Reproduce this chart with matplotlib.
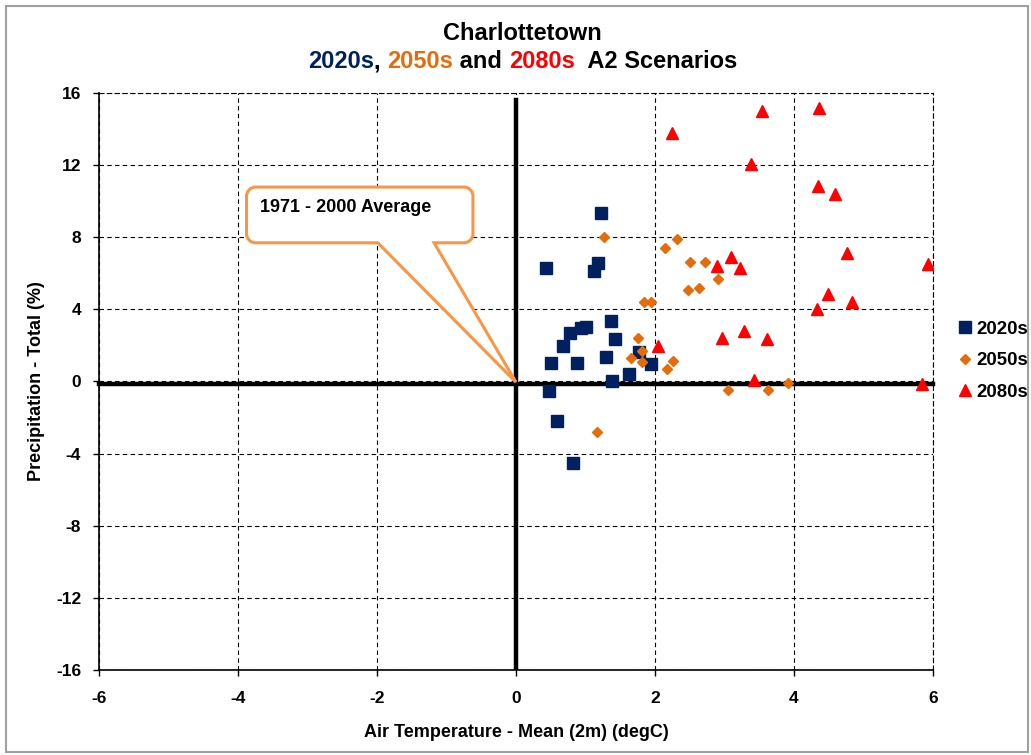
import matplotlib
matplotlib.use("Agg")
import matplotlib.pyplot as plt
from matplotlib.path import Path
import matplotlib.patches as patches
import numpy as np

plt.rcParams['font.family'] = ['Liberation Sans', 'DejaVu Sans']
plt.rcParams['font.weight'] = 'bold'
plt.rcParams['axes.unicode_minus'] = False

# Change from 1971-2000 normals: mean air temperature (degC) vs total precipitation (%)
temp_2020s = [1.22, 0.43, 1.18, 1.13, 1.37, 0.78, 0.94, 1.01, 1.43, 0.68,
              1.29, 0.50, 0.88, 1.77, 1.94, 1.62, 1.38, 0.47, 0.59, 0.82]
prec_2020s = [9.35, 6.29, 6.54, 6.09, 3.36, 2.70, 2.94, 3.02, 2.33, 1.94,
              1.37, 1.00, 1.04, 1.63, 0.96, 0.39, 0.02, -0.52, -2.19, -4.50]

temp_2050s = [1.26, 2.15, 2.32, 2.50, 2.72, 2.91, 2.47, 2.63, 1.84, 1.95,
              1.76, 1.81, 1.65, 1.81, 2.26, 2.17, 1.16, 3.05, 3.63, 3.91]
prec_2050s = [7.98, 7.37, 7.87, 6.59, 6.59, 5.70, 5.06, 5.17, 4.39, 4.41,
              2.39, 1.70, 1.31, 1.06, 1.13, 0.69, -2.83, -0.50, -0.46, -0.09]

temp_2080s = [2.24, 3.54, 4.36, 3.39, 4.35, 4.59, 3.09, 2.89, 3.23, 4.77,
              5.93, 4.49, 4.84, 4.34, 3.28, 2.97, 3.62, 2.04, 3.43, 5.84]
prec_2080s = [13.78, 14.98, 15.17, 12.06, 10.83, 10.37, 6.91, 6.39, 6.30, 7.09,
              6.50, 4.83, 4.41, 4.00, 2.78, 2.41, 2.33, 1.98, 0.06, -0.13]

# 1971 - 2000 baseline cross
base_v_x = [0, 0]
base_v_y = [-16, 15.6]
base_h_x = [-6, 6]
base_h_y = [-0.15, -0.15]

x_ticks = [-6, -4, -2, 0, 2, 4, 6]
y_ticks = [-16, -12, -8, -4, 0, 4, 8, 12, 16]

c_2020 = '#002060'
c_2050 = '#E46C0A'
c_2080 = '#FF0000'
c_callout = '#F79646'

fig = plt.figure(figsize=(10.31, 7.55), dpi=100)
ax = fig.add_axes([0.0963, 0.1126, 0.8084, 0.7646])

ax.set_xlim(-6, 6)
ax.set_ylim(-16, 16)
ax.set_xticks(x_ticks)
ax.set_yticks(y_ticks)
ax.tick_params(direction='out', length=4, width=1, labelsize=12.5, colors='black')
ax.tick_params(axis='x', pad=11)
ax.tick_params(axis='y', pad=9)
for lab in ax.get_xticklabels() + ax.get_yticklabels():
    lab.set_fontweight('bold')
ax.grid(True, color='black', linestyle=(0, (4, 3)), linewidth=0.8)
ax.set_axisbelow(True)
for s in ['left', 'bottom']:
    ax.spines[s].set_linewidth(1.2)
for s in ['top', 'right']:
    ax.spines[s].set_linestyle((0, (4, 3)))
    ax.spines[s].set_linewidth(0.8)

ax.plot(base_v_x, base_v_y, color='black', linewidth=3.2, zorder=2)
ax.plot(base_h_x, base_h_y, color='black', linewidth=3.2, zorder=2, clip_on=False)

ax.plot(temp_2020s, prec_2020s, 's', color=c_2020, markersize=8, label='2020s', zorder=3)
ax.plot(temp_2050s, prec_2050s, 'D', color=c_2050, markersize=5.6, label='2050s', zorder=3)
ax.plot(temp_2080s, prec_2080s, '^', color=c_2080, markersize=8, label='2080s', zorder=4)

ax.set_xlabel('Air Temperature - Mean (2m) (degC)', fontsize=13, fontweight='bold', labelpad=13)
ax.set_ylabel('Precipitation - Total (%)', fontsize=13, fontweight='bold', labelpad=8)

# callout box with a wedge pointing at the baseline origin
box_x0, box_x1 = -3.88, -0.62
box_y0, box_y1 = 7.68, 10.77
wedge_x0, wedge_x1 = -1.99, -1.18
tip = (0, -0.05)
T = ax.transData.transform
(bx0, by0), (bx1, by1) = T((box_x0, box_y0)), T((box_x1, box_y1))
wx0 = T((wedge_x0, 0))[0]
wx1 = T((wedge_x1, 0))[0]
tx, ty = T(tip)
r = 9
k = 0.45
verts = [
    (wx1, by0), (bx1 - r, by0),
    (bx1 - r * k, by0), (bx1, by0 + r * k), (bx1, by0 + r),
    (bx1, by1 - r),
    (bx1, by1 - r * k), (bx1 - r * k, by1), (bx1 - r, by1),
    (bx0 + r, by1),
    (bx0 + r * k, by1), (bx0, by1 - r * k), (bx0, by1 - r),
    (bx0, by0 + r),
    (bx0, by0 + r * k), (bx0 + r * k, by0), (bx0 + r, by0),
    (wx0, by0), (tx, ty), (wx1, by0),
]
codes = [Path.MOVETO, Path.LINETO,
         Path.CURVE4, Path.CURVE4, Path.CURVE4,
         Path.LINETO,
         Path.CURVE4, Path.CURVE4, Path.CURVE4,
         Path.LINETO,
         Path.CURVE4, Path.CURVE4, Path.CURVE4,
         Path.LINETO,
         Path.CURVE4, Path.CURVE4, Path.CURVE4,
         Path.LINETO, Path.LINETO, Path.CLOSEPOLY]
callout = patches.PathPatch(Path(verts, codes), facecolor='white', edgecolor=c_callout,
                            linewidth=2.2, transform=None, zorder=5, joinstyle='miter')
ax.add_artist(callout)
ax.text(-3.68, 9.65, '1971 - 2000 Average', fontsize=13, fontweight='bold',
        ha='left', va='center', zorder=6)

# legend
leg = fig.legend(loc='center left', bbox_to_anchor=(0.922, 0.522), frameon=False,
                 fontsize=13.4, handlelength=0.7, handletextpad=0.3, labelspacing=0.78,
                 borderaxespad=0)
for t in leg.get_texts():
    t.set_fontweight('bold')

# two-line title, second line in series colours
fig.text(0.507, 0.956, 'Charlottetown', fontsize=17, fontweight='bold',
         ha='center', va='center')
parts = [('2020s', c_2020), (', ', 'black'), ('2050s', c_2050), (' and ', 'black'),
         ('2080s', c_2080), ('  A2 Scenarios', 'black')]
renderer = fig.canvas.get_renderer()
texts = [fig.text(0, 0.918, s, color=c, fontsize=17, fontweight='bold', va='center', ha='left')
         for s, c in parts]
widths = [t.get_window_extent(renderer).width for t in texts]
total = sum(widths)
x = 0.507 * fig.bbox.width - total / 2
for t, w in zip(texts, widths):
    t.set_x(x / fig.bbox.width)
    x += w

# chart area border
fig.add_artist(patches.Rectangle((6 / 1031, 3 / 755), 1022 / 1031, 746 / 755,
                                 transform=fig.transFigure, fill=False,
                                 edgecolor='#A0A0A0', linewidth=1.5))

fig.savefig('out.png', dpi=100)
